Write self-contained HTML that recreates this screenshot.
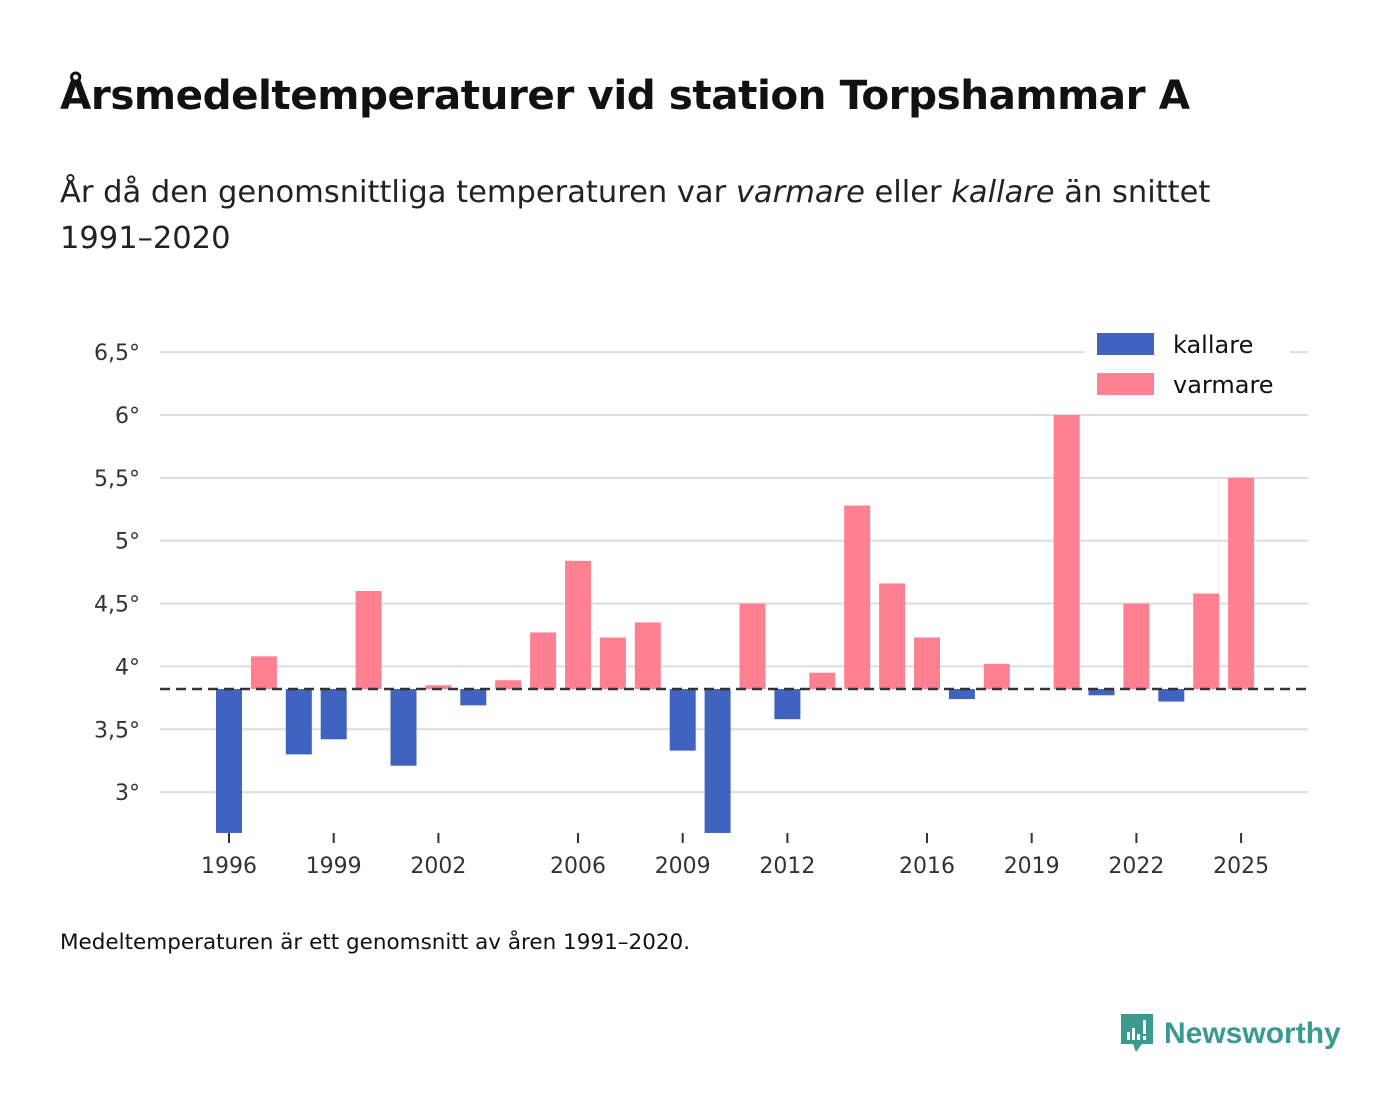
<!DOCTYPE html>
<html><head><meta charset="utf-8">
<style>
body{margin:0;background:#fff;width:1400px;height:1116px;overflow:hidden;font-family:"DejaVu Sans","Liberation Sans",sans-serif;color:#111}
#title{position:absolute;left:60px;top:71px;font-size:40.5px;font-weight:bold;margin:0;letter-spacing:-0.5px}
#sub{position:absolute;left:60px;top:170px;font-size:30.5px;line-height:46px;width:1200px;color:#222}
#note{position:absolute;left:60px;top:930px;font-size:21.5px;color:#111}
#logo{position:absolute;left:1118px;top:1012px;display:flex;align-items:center}
#logo span{font-size:30px;font-weight:bold;color:#3a9a90;margin-left:8px;font-family:"Liberation Sans",sans-serif}
svg text{font-family:"DejaVu Sans","Liberation Sans",sans-serif}
</style></head><body>
<h1 id="title">Årsmedeltemperaturer vid station Torpshammar A</h1>
<div id="sub">År då den genomsnittliga temperaturen var <i>varmare</i> eller <i>kallare</i> än snittet<br>1991–2020</div>
<svg id="chart" width="1400" height="1116" style="position:absolute;left:0;top:0"></svg>
<div id="note">Medeltemperaturen är ett genomsnitt av åren 1991–2020.</div>
<div id="logo">
<svg width="38" height="44" viewBox="0 0 38 44"><path d="M3 2h32v30H24l-6 8-3-8H3z" fill="#3a9a90"/><rect x="9" y="20" width="3" height="8" fill="#fff"/><rect x="14" y="16" width="3" height="12" fill="#fff"/><rect x="19" y="22" width="3" height="6" fill="#fff"/><rect x="25" y="8" width="3" height="14" fill="#fff"/><rect x="25" y="24" width="3" height="4" fill="#fff"/></svg>
<span>Newsworthy</span></div>
<script>
const years=[1996,1997,1998,1999,2000,2001,2002,2003,2004,2005,2006,2007,2008,2009,2010,2011,2012,2013,2014,2015,2016,2017,2018,2019,2020,2021,2022,2023,2024,2025];
const temps=[2.6,4.08,3.30,3.42,4.60,3.21,3.85,3.69,3.89,4.27,4.84,4.23,4.35,3.33,2.6,4.50,3.58,3.95,5.28,4.66,4.23,3.74,4.02,null,6.0,3.77,4.50,3.72,4.58,5.50];
const baseline=3.82;
const yTicks=[3,3.5,4,4.5,5,5.5,6,6.5];
const yTickLabels=["3°","3,5°","4°","4,5°","5°","5,5°","6°","6,5°"];
const xTicks=[1996,1999,2002,2006,2009,2012,2016,2019,2022,2025];
const yMin=2.675;
const svg=document.getElementById('chart');const NS='http://www.w3.org/2000/svg';
const y=v=>415+(6-v)*125.7;const x=yr=>229+(yr-1996)*34.9;
function mk(t,a){const e=document.createElementNS(NS,t);for(const k in a)e.setAttribute(k,a[k]);svg.appendChild(e);return e;}
yTicks.forEach((t,i)=>{
 const l=mk('line',{x1:160,x2:1308,y1:y(t),y2:y(t),stroke:'#ddd','stroke-width':2});
 
 
 const tx=mk('text',{x:140,y:y(t)+8,'text-anchor':'end','font-size':22,fill:'#333'});tx.textContent=yTickLabels[i];
 
 
});
xTicks.forEach(t=>{
 const l=mk('line',{x1:x(t),x2:x(t),y1:833,y2:843,stroke:'#333','stroke-width':2});
 
 
 const tx=mk('text',{x:x(t),y:873,'text-anchor':'middle','font-size':22,fill:'#333'});tx.textContent=t;
 
 
});
years.forEach((yr,i)=>{
 const v=temps[i];if(v==null)return;
 const vv=Math.max(v,yMin);const top=Math.min(y(vv),y(baseline)),h=Math.abs(y(vv)-y(baseline));
 const r=mk('rect',{x:x(yr)-13,y:top,width:26,height:h,fill:v<baseline?'#3f63bf':'#ff8091'});
 
 
});
const bl=mk('line',{x1:160,x2:1308,y1:y(baseline),y2:y(baseline),stroke:'#333','stroke-width':2.5,'stroke-dasharray':'10,6'});


const lb=mk('rect',{x:1085,y:322,width:205,height:85,fill:'#fff'});


[['kallare','#3f63bf',333],['varmare','#ff8091',373]].forEach(([n,c,yy])=>{
 const r=mk('rect',{x:1097,y:yy,width:57,height:22,fill:c});
 
 
 const t=mk('text',{x:1173,y:yy+20,'font-size':24,fill:'#111'});t.textContent=n;
 
 
});
</script>
</body></html>
